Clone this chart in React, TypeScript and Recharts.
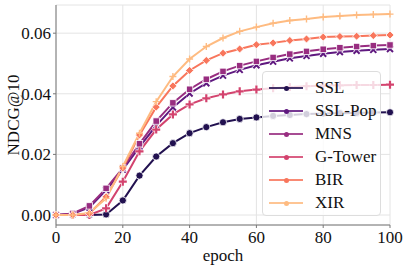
import { LineChart, Line, XAxis, YAxis, CartesianGrid } from "recharts";

const epochs = [0, 5, 10, 15, 20, 25, 30, 35, 40, 45, 50, 55, 60, 65, 70, 75, 80, 85, 90, 95, 100];

const ssl = [0, 0, 0, 0.0002, 0.0048, 0.013, 0.0193, 0.0237, 0.027, 0.029, 0.0306, 0.0317, 0.0322, 0.0327, 0.033, 0.0333, 0.0335, 0.0336, 0.0337, 0.0338, 0.0339];
const sslPop = [0, 0.0004, 0.0025, 0.0082, 0.015, 0.0225, 0.0295, 0.0355, 0.0401, 0.0435, 0.046, 0.0479, 0.0494, 0.0506, 0.0517, 0.0525, 0.0532, 0.0538, 0.0542, 0.0545, 0.0548];
const mns = [0, 0.0005, 0.003, 0.0088, 0.0155, 0.0235, 0.031, 0.037, 0.0415, 0.0448, 0.0474, 0.0493, 0.0507, 0.052, 0.0531, 0.054, 0.0547, 0.0552, 0.0556, 0.0559, 0.0561];
const gTower = [0, 0, 0, 0.0022, 0.011, 0.021, 0.0282, 0.0332, 0.0365, 0.0385, 0.0398, 0.0408, 0.0414, 0.0418, 0.0422, 0.0425, 0.0427, 0.0428, 0.0429, 0.0429, 0.043];
const bir = [0, 0, 0.0005, 0.006, 0.0155, 0.0264, 0.0356, 0.0426, 0.0477, 0.051, 0.0534, 0.0548, 0.0562, 0.0568, 0.0576, 0.0581, 0.0587, 0.0589, 0.059, 0.0592, 0.0594];
const xir = [0, 0, 0.0007, 0.0055, 0.016, 0.027, 0.0374, 0.0457, 0.0515, 0.0556, 0.0584, 0.0606, 0.062, 0.0633, 0.0642, 0.0647, 0.0653, 0.0657, 0.066, 0.0662, 0.0663];

const xTicks = [0, 20, 40, 60, 80, 100];
const yTicks = [0, 0.02, 0.04, 0.06];

const series = [
  { key: "SSL", values: ssl, color: "#221150", marker: "circle" },
  { key: "SSL-Pop", values: sslPop, color: "#5f187f", marker: "x" },
  { key: "MNS", values: mns, color: "#982d80", marker: "square" },
  { key: "G-Tower", values: gTower, color: "#d3436e", marker: "plus" },
  { key: "BIR", values: bir, color: "#f8765c", marker: "diamond" },
  { key: "XIR", values: xir, color: "#febb81", marker: "star" },
];

const data = epochs.map((e, i) => {
  const row: Record<string, number> = { epoch: e };
  series.forEach((s) => (row[s.key] = s.values[i]));
  return row;
});

const font = "'Liberation Serif', 'Times New Roman', serif";

function makeDot(marker: string, color: string) {
  return (props: any) => {
    const { cx, cy, index } = props;
    if (cx == null || cy == null) return <g key={index} />;
    const k = `${marker}-${index}`;
    if (marker === "circle")
      return <circle key={k} cx={cx} cy={cy} r={3.6} fill={color} stroke="#fff" strokeWidth={0.8} />;
    if (marker === "square")
      return <rect key={k} x={cx - 3.2} y={cy - 3.2} width={6.4} height={6.4} fill={color} stroke="#fff" strokeWidth={0.8} />;
    if (marker === "diamond")
      return <path key={k} d={`M${cx},${cy - 4}L${cx + 4},${cy}L${cx},${cy + 4}L${cx - 4},${cy}Z`} fill={color} stroke="#fff" strokeWidth={0.8} />;
    if (marker === "x")
      return (
        <g key={k}>
          <path d={`M${cx - 3},${cy - 3}L${cx + 3},${cy + 3}M${cx - 3},${cy + 3}L${cx + 3},${cy - 3}`} stroke="#fff" strokeWidth={3.4} />
          <path d={`M${cx - 3},${cy - 3}L${cx + 3},${cy + 3}M${cx - 3},${cy + 3}L${cx + 3},${cy - 3}`} stroke={color} strokeWidth={2} />
        </g>
      );
    if (marker === "plus")
      return (
        <g key={k}>
          <path d={`M${cx - 4},${cy}L${cx + 4},${cy}M${cx},${cy - 4}L${cx},${cy + 4}`} stroke="#fff" strokeWidth={3.6} />
          <path d={`M${cx - 4},${cy}L${cx + 4},${cy}M${cx},${cy - 4}L${cx},${cy + 4}`} stroke={color} strokeWidth={2.2} />
        </g>
      );
    return (
      <g key={k}>
        <path d={`M${cx - 3.5},${cy}L${cx + 3.5},${cy}M${cx},${cy - 3.5}L${cx},${cy + 3.5}`} stroke={color} strokeWidth={1.4} />
      </g>
    );
  };
}

export default function App() {
  return (
    <div style={{ position: "absolute", left: 0, top: 0, width: 407, height: 268, background: "#fff", fontFamily: font }}>
      <LineChart width={407} height={268} data={data} margin={{ top: 5, right: 17, bottom: 0, left: 0 }}>
        <CartesianGrid stroke="#e4e4e4" strokeWidth={1} vertical horizontal />
        <XAxis
          dataKey="epoch"
          type="number"
          domain={[0, 100]}
          ticks={xTicks}
          height={43}
          stroke="#777"
          tickSize={3}
          tick={{ fill: "#111", fontSize: 17, fontFamily: font }}
          tickMargin={3}
          label={{ value: "epoch", position: "insideBottom", offset: 7, fill: "#111", fontSize: 17, fontFamily: font }}
        />
        <YAxis
          type="number"
          domain={[-0.0033, 0.0693]}
          ticks={yTicks}
          width={56}
          stroke="#777"
          tickSize={3}
          tickFormatter={(v: number) => v.toFixed(2)}
          tick={{ fill: "#111", fontSize: 17, fontFamily: font }}
          tickMargin={2}
          label={{ value: "NDCG@10", angle: -90, position: "insideLeft", offset: 13, style: { textAnchor: "middle" }, fill: "#111", fontSize: 17, fontFamily: font }}
        />
        <XAxis xAxisId="top" orientation="top" dataKey="epoch" type="number" domain={[0, 100]} height={0} tick={false} tickLine={false} stroke="#777" />
        <YAxis yAxisId="right" orientation="right" width={0} tick={false} tickLine={false} stroke="#777" />
        {series.map((s) => (
          <Line
            key={s.key}
            dataKey={s.key}
            stroke={s.color}
            strokeWidth={2}
            dot={makeDot(s.marker, s.color)}
            activeDot={false}
            isAnimationActive={false}
            type="linear"
          />
        ))}
      </LineChart>
      <div
        style={{
          position: "absolute",
          left: 262,
          top: 71,
          width: 117,
          height: 143,
          background: "rgba(255,255,255,0.8)",
          border: "1px solid #ddd",
          borderRadius: 4,
        }}
      >
        {series.map((s, i) => (
          <div key={s.key} style={{ position: "absolute", left: 0, top: 5 + i * 23, height: 22, width: 117 }}>
            <div style={{ position: "absolute", left: 6, top: 10, width: 34, height: 2, background: s.color, opacity: 0.85 }} />
            <div style={{ position: "absolute", left: 20.5, top: 8.5, width: 5, height: 5, borderRadius: 3, background: s.color }} />
            <div style={{ position: "absolute", left: 52, top: 0, fontSize: 17, lineHeight: "22px", color: "#111", fontFamily: font }}>{s.key}</div>
          </div>
        ))}
      </div>
    </div>
  );
}
